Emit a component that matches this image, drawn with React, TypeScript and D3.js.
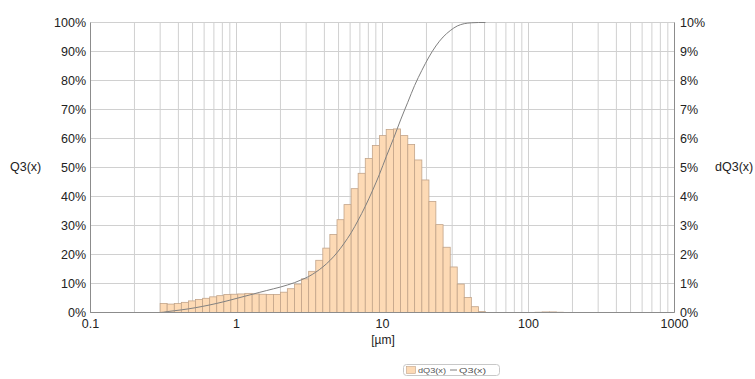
import React from "react";
import * as d3 from "d3";

// bin edges in µm (class limits of the histogram)
const binEdges = [
  0.3, 0.335, 0.375, 0.419, 0.469, 0.524, 0.586, 0.655, 0.732, 0.819, 0.915,
  1.02, 1.14, 1.28, 1.43, 1.6, 1.79, 2.0, 2.23, 2.5, 2.79, 3.12, 3.49, 3.9,
  4.36, 4.88, 5.45, 6.1, 6.81, 7.62, 8.52, 9.52, 10.6, 11.9, 13.3, 14.9, 16.6,
  18.6, 20.8, 23.2, 26.0, 29.1, 32.5, 36.3, 40.6, 45.4, 50.7, 56.7, 63.4, 70.9,
  79.3, 88.6, 99.1, 111, 124, 139, 155, 173,
];

// dQ3(x) in % per class
const dQ3 = [
  0.31, 0.29, 0.31, 0.35, 0.4, 0.45, 0.49, 0.54, 0.58, 0.62, 0.63, 0.64, 0.66,
  0.64, 0.63, 0.62, 0.62, 0.7, 0.82, 0.98, 1.16, 1.42, 1.8, 2.22, 2.69, 3.2,
  3.72, 4.27, 4.8, 5.31, 5.76, 6.1, 6.31, 6.33, 6.1, 5.79, 5.26, 4.57, 3.83,
  3.03, 2.25, 1.57, 0.98, 0.52, 0.2, 0.03, 0, 0, 0, 0, 0, 0, 0, 0.01, 0.02,
  0.02, 0.01,
];

// Q3(x) in % at the upper class limits
const Q3 = [
  0.31, 0.6, 0.91, 1.26, 1.66, 2.11, 2.6, 3.14, 3.72, 4.34, 4.97, 5.61, 6.27,
  6.91, 7.54, 8.16, 8.78, 9.48, 10.3, 11.3, 12.4, 13.9, 15.7, 17.9, 20.6, 23.8,
  27.5, 31.8, 36.6, 41.9, 47.6, 53.7, 60.0, 66.4, 72.5, 78.3, 83.5, 88.1, 91.9,
  95.0, 97.2, 98.8, 99.6, 99.9, 100, 100,
];

const xTicks = [0.1, 1, 10, 100, 1000];
const leftTicks = [0, 10, 20, 30, 40, 50, 60, 70, 80, 90, 100];
const rightTicks = [0, 1, 2, 3, 4, 5, 6, 7, 8, 9, 10];

const W = 755;
const H = 379;
const font = "'Liberation Sans', Arial, sans-serif";
const barFill = "#fddab5";
const barStroke = "#c2a489";
const lineColor = "#808080";
const gridColor = "#d0d0d0";
const axisColor = "#8c8c8c";
const textColor = "#222";

export default function App() {
  const x = d3.scaleLog().domain([0.1, 1000]).range([90.5, 674.5]);
  const yL = d3.scaleLinear().domain([0, 100]).range([312.5, 22.5]);
  const yR = d3.scaleLinear().domain([0, 10]).range([312.5, 22.5]);

  // minor + major log grid
  const vGrid: number[] = [];
  for (let p = -1; p < 3; p++) {
    for (let m = 1; m <= 10; m++) vGrid.push(m * Math.pow(10, p));
  }

  const pts: [number, number][] = [
    [0.1, 0],
    [binEdges[0], 0],
    ...Q3.map((q, i) => [binEdges[i + 1], q] as [number, number]),
  ];
  const line = d3
    .line<[number, number]>()
    .x((d) => x(d[0]))
    .y((d) => yL(d[1]))
    .curve(d3.curveMonotoneX);

  return (
    <svg
      width={W}
      height={H}
      style={{ position: "absolute", left: 0, top: 0, background: "#fff" }}
      fontFamily={font}
    >
      {/* grid */}
      {leftTicks.map((t) => (
        <line
          key={"h" + t}
          x1={x(0.1)}
          x2={x(1000)}
          y1={yL(t)}
          y2={yL(t)}
          stroke={gridColor}
        />
      ))}
      {vGrid.map((v) => (
        <line
          key={"v" + v}
          x1={x(v)}
          x2={x(v)}
          y1={yL(0)}
          y2={yL(100)}
          stroke={gridColor}
        />
      ))}

      {/* bars */}
      {dQ3.map((v, i) =>
        v > 0 ? (
          <rect
            key={"b" + i}
            x={x(binEdges[i])}
            width={x(binEdges[i + 1]) - x(binEdges[i])}
            y={yR(v)}
            height={yR(0) - yR(v)}
            fill={barFill}
            stroke={barStroke}
            strokeWidth={0.8}
          />
        ) : null
      )}

      {/* cumulative curve */}
      <path d={line(pts) || ""} fill="none" stroke={lineColor} strokeWidth={1} />

      {/* frame */}
      <line x1={x(0.1)} x2={x(0.1)} y1={yL(0)} y2={yL(100)} stroke={axisColor} />
      <line x1={x(1000)} x2={x(1000)} y1={yL(0)} y2={yL(100)} stroke={axisColor} />
      <line x1={x(0.1)} x2={x(1000)} y1={yL(0)} y2={yL(0)} stroke={axisColor} />

      {/* left axis */}
      {leftTicks.map((t) => (
        <text
          key={"l" + t}
          x={86}
          y={yL(t)}
          textAnchor="end"
          dominantBaseline="central"
          fontSize={12.5}
          fill={textColor}
        >
          {t}%
        </text>
      ))}
      {/* right axis */}
      {rightTicks.map((t) => (
        <text
          key={"r" + t}
          x={680}
          y={yR(t)}
          dominantBaseline="central"
          fontSize={12.5}
          fill={textColor}
        >
          {t}%
        </text>
      ))}
      {/* x axis */}
      {xTicks.map((t) => (
        <text
          key={"x" + t}
          x={x(t)}
          y={324}
          textAnchor="middle"
          dominantBaseline="central"
          fontSize={12.5}
          fill={textColor}
        >
          {t}
        </text>
      ))}
      <text x={383} y={340} textAnchor="middle" dominantBaseline="central" fontSize={12} fill={textColor}>
        [µm]
      </text>
      <text x={10} y={167} dominantBaseline="central" fontSize={12.5} fill={textColor}>
        Q3(x)
      </text>
      <text x={715} y={167} dominantBaseline="central" fontSize={12.5} fill={textColor}>
        dQ3(x)
      </text>

      {/* legend */}
      <g>
        <rect x={403.5} y={364.5} width={96} height={11} rx={3} fill="#fff" stroke="#c8c8c8" />
        <rect x={406.5} y={366.5} width={9} height={7} fill={barFill} stroke={barStroke} strokeWidth={0.6} />
        <text x={418} y={370} dominantBaseline="central" fontSize={8} fill="#555" textLength={28} lengthAdjust="spacingAndGlyphs">
          dQ3(x)
        </text>
        <line x1={450} x2={457} y1={370} y2={370} stroke={lineColor} />
        <text x={459} y={370} dominantBaseline="central" fontSize={8} fill="#555" textLength={27} lengthAdjust="spacingAndGlyphs">
          Q3(x)
        </text>
      </g>
    </svg>
  );
}
